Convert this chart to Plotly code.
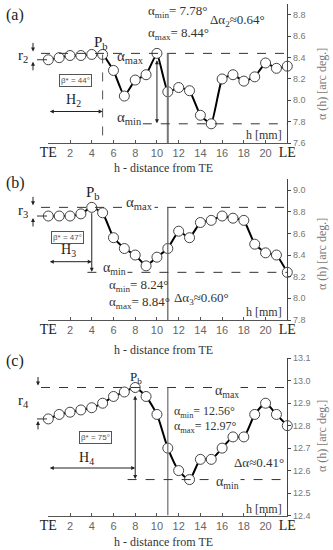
import plotly.graph_objects as go

W, H = 333, 550

# ---------------- data ----------------
h = list(range(23))
alpha_a = [8.38, 8.40, 8.42, 8.42, 8.43, 8.43, 8.28, 8.04, 8.19, 8.24, 8.44, 8.08,
           8.12, 8.09, 7.86, 7.78, 8.20, 8.24, 8.18, 8.22, 8.35, 8.30, 8.32]
alpha_b = [8.76, 8.76, 8.76, 8.78, 8.84, 8.79, 8.56, 8.46, 8.40, 8.30, 8.38, 8.46,
           8.62, 8.56, 8.70, 8.72, 8.76, 8.74, 8.72, 8.50, 8.42, 8.40, 8.24]
alpha_c = [12.83, 12.85, 12.86, 12.87, 12.88, 12.90, 12.93, 12.95, 12.97, 12.93, 12.85, 12.70,
           12.60, 12.56, 12.65, 12.65, 12.70, 12.75, 12.75, 12.85, 12.90, 12.85, 12.80]
yticks_a = [7.6, 7.8, 8.0, 8.2, 8.4, 8.6, 8.8]
yticks_b = [7.8, 8.0, 8.2, 8.4, 8.6, 8.8, 9.0]
yticks_c = [12.4, 12.5, 12.6, 12.7, 12.8, 12.9, 13.0, 13.1]
xtick_vals = [0, 2, 4, 6, 8, 10, 12, 14, 16, 18, 20, 22]
xtick_labels = ["TE", "2", "4", "6", "8", "10", "12", "14", "16", "18", "20", "LE"]
pb_index = {"a": 5, "b": 4, "c": 8}
beta_star = {"a": 44, "b": 47, "c": 75}
sub_idx = {"a": "2", "b": "3", "c": "4"}
delta_txt = {"a": "Δα<sub>2</sub>≈0.64°", "b": "Δα<sub>3</sub>≈0.60°", "c": "Δα≈0.41°"}

SERIF = "Liberation Serif"
SANS = "Liberation Sans"
TXT = "#333333"
GRAY = "#777777"


def px(x):
    return x / W


def py(y):
    return 1 - y / H


XDOM = [px(48.3), px(287.3)]

panels = [
    dict(key="a", vals=alpha_a, yr=[7.6, 8.9], top=4.3, bot=143, ticks=yticks_a),
    dict(key="b", vals=alpha_b, yr=[7.8, 9.1], top=179.2, bot=320, ticks=yticks_b),
    dict(key="c", vals=alpha_c, yr=[12.4, 13.1], top=358.3, bot=515.5, ticks=yticks_c),
]

fig = go.Figure()
layout = dict(width=W, height=H, margin=dict(l=0, r=0, t=0, b=0, autoexpand=False),
              paper_bgcolor="white", plot_bgcolor="white", showlegend=False)

ticktext = []
for lab in xtick_labels:
    if lab in ("TE", "LE"):
        ticktext.append(f'<span style="font-family:{SERIF};font-size:14px;color:#222">{lab}</span>')
    else:
        ticktext.append(lab)

shapes = []
annots = []

for i, p in enumerate(panels):
    n = "" if i == 0 else str(i + 1)
    xa, ya = "x" + n, "y" + n
    fig.add_trace(go.Scatter(
        x=h, y=p["vals"], mode="lines+markers", xaxis=xa, yaxis=ya, cliponaxis=False,
        line=dict(color="black", width=2, shape="spline",
                  smoothing=0.6 if p["key"] == "c" else 0.35),
        marker=dict(size=10, color="white", line=dict(color="#444", width=1)),
        hoverinfo="skip",
    ))
    layout["xaxis" + n] = dict(
        domain=XDOM, anchor=ya, range=[0, 22], showgrid=False, zeroline=False,
        showline=True, linecolor="#555", linewidth=1, ticks="inside", ticklen=3,
        tickcolor="#555", tickvals=xtick_vals, ticktext=ticktext,
        tickfont=dict(family=SANS, size=11, color="#666"), ticklabelstandoff=0,
    )
    layout["yaxis" + n] = dict(
        domain=[py(p["bot"]), py(p["top"])], anchor=xa, side="right", range=p["yr"],
        showgrid=False, zeroline=False, showline=True, linecolor="#444", linewidth=1,
        ticks="outside", ticklen=3, tickcolor="#444", tickvals=p["ticks"],
        ticktext=[f"{t:.1f}" for t in p["ticks"]],
        tickfont=dict(family=SANS, size=9, color="#777"),
    )

    vals = p["vals"]
    amax, amin = max(vals), min(vals)
    pb = pb_index[p["key"]]
    k = p["key"]
    y0r, y1r = p["yr"]

    def pix2data(ypix, p=p):
        return p["yr"][0] + (p["bot"] - ypix) / (p["bot"] - p["top"]) * (p["yr"][1] - p["yr"][0])

    def data2pix(yv, p=p):
        return p["bot"] - (yv - p["yr"][0]) / (p["yr"][1] - p["yr"][0]) * (p["bot"] - p["top"])

    # TE dashed vertical line
    shapes.append(dict(type="line", xref=xa, yref=ya, x0=-0.1, x1=-0.1,
                       y0=y0r, y1=y1r if k != "c" else 13.05,
                       line=dict(color="#555", width=1, dash="dash")))
    # alpha max dashed line
    shapes.append(dict(type="line", xref="paper", yref=ya, x0=px(41), x1=XDOM[1],
                       y0=amax, y1=amax, line=dict(color="#333", width=1, dash="dash")))
    # r short dash at first value
    shapes.append(dict(type="line", xref="paper", yref=ya, x0=px(37), x1=px(47),
                       y0=vals[0], y1=vals[0], line=dict(color="#333", width=1)))
    # vertical gray line at h = 11
    shapes.append(dict(type="line", xref=xa, yref=ya, x0=11, x1=11, y0=amax, y1=y0r,
                       line=dict(color=GRAY if k != "b" else "#666", width=2 if k == "a" else 1.3)))

    # r arrows
    ypx_max = data2pix(amax)
    ypx_first = data2pix(vals[0])
    rx = 33 if k != "c" else 38
    annots.append(dict(x=px(rx), y=py(ypx_max - 2), xref="paper", yref="paper", text="",
                       showarrow=True, ax=0, ay=-10, arrowhead=2, arrowsize=0.8,
                       arrowwidth=1, arrowcolor="#222"))
    annots.append(dict(x=px(rx), y=py(ypx_first + 2), xref="paper", yref="paper", text="",
                       showarrow=True, ax=0, ay=10, arrowhead=2, arrowsize=0.8,
                       arrowwidth=1, arrowcolor="#222"))
    rlab_y = {"a": 56, "b": 211, "c": 401}[k]
    annots.append(dict(x=px(23), y=py(rlab_y),
                       xref="paper", yref="paper",
                       text=f"r<sub>{sub_idx[k]}</sub>", showarrow=False,
                       font=dict(family=SERIF, size=15, color="#222")))

    # H arrow
    hpx = {"a": 111.5, "b": 261.7, "c": 468}[k]
    hy = pix2data(hpx)
    annots.append(dict(x=pb, y=hy, xref=xa, yref=ya, ax=0, ay=hy,
                       axref=xa, ayref=ya, text="", showarrow=True, arrowhead=2,
                       arrowside="end+start", arrowsize=0.8, arrowwidth=1, arrowcolor="#222"))
    hlab = {"a": (73, 101), "b": (68, 251), "c": (86, 458)}[k]
    annots.append(dict(x=px(hlab[0]), y=py(hlab[1]), xref="paper", yref="paper",
                       text=f"H<sub>{sub_idx[k]}</sub>", showarrow=False,
                       font=dict(family=SERIF, size=14, color="#222")))

    # beta box
    bpos = {"a": (75, 80), "b": (67, 237), "c": (95, 437)}[k]
    annots.append(dict(x=px(bpos[0]), y=py(bpos[1]), xref="paper", yref="paper",
                       text=f"β* = {beta_star[k]}°", showarrow=False,
                       font=dict(family=SANS, size=8, color="#555"),
                       bordercolor="#555", borderwidth=1, borderpad=1, bgcolor="white"))

    # panel label
    lpos = {"a": 15, "b": 183, "c": 361}[k]
    annots.append(dict(x=px(15), y=py(lpos), xref="paper", yref="paper", text=f"({k})",
                       showarrow=False, font=dict(family=SERIF, size=16, color="#222")))

    # h [mm]
    hm = {"a": 135, "b": 312, "c": 509}[k]
    annots.append(dict(x=px(284), y=py(hm), xref="paper", yref="paper", text="h [mm]",
                       xanchor="right", showarrow=False,
                       font=dict(family=SERIF, size=12, color="#333")))

    # x axis title
    xt = {"a": 168, "b": 350, "c": 542}[k]
    annots.append(dict(x=px(163), y=py(xt), xref="paper", yref="paper",
                       text="h - distance from TE", showarrow=False,
                       font=dict(family=SERIF, size=12, color="#333")))
    # y axis title
    yt = {"a": 84, "b": 254, "c": 436}[k]
    annots.append(dict(x=px(322), y=py(yt), xref="paper", yref="paper",
                       text="α (h) [arc deg.]", textangle=-90, showarrow=False,
                       font=dict(family=SERIF, size=12, color="#777")))

    # P_b label
    pbpos = {"a": (101, 43), "b": (93, 193), "c": (136, 377)}[k]
    annots.append(dict(x=px(pbpos[0]), y=py(pbpos[1]), xref="paper", yref="paper",
                       text="P<sub>b</sub>", showarrow=False,
                       font=dict(family=SERIF, size=15 if k != "c" else 13, color="#222")))

    # min / max value texts
    tpos = {"a": (146, 11, 33), "b": (107, 285, 302), "c": (172, 412, 427)}[k]
    fs = 13 if k != "c" else 12
    annots.append(dict(x=px(tpos[0]), y=py(tpos[1]), xref="paper", yref="paper",
                       xanchor="left", text=f"α<sub>min</sub>= {amin:.2f}°", showarrow=False,
                       font=dict(family=SERIF, size=fs, color=TXT)))
    annots.append(dict(x=px(tpos[0]), y=py(tpos[2]), xref="paper", yref="paper",
                       xanchor="left", text=f"α<sub>max</sub>= {amax:.2f}°", showarrow=False,
                       font=dict(family=SERIF, size=fs, color=TXT)))
    dpos = {"a": (208, 20), "b": (172, 298), "c": (232, 462)}[k]
    annots.append(dict(x=px(dpos[0]), y=py(dpos[1]), xref="paper", yref="paper",
                       xanchor="left", text=delta_txt[k], showarrow=False,
                       font=dict(family=SERIF, size=13, color=TXT)))

# ---- panel-specific elements ----
# (a)
va = alpha_a
shapes.append(dict(type="line", xref="x", yref="y", x0=5, x1=5, y0=va[5], y1=7.6,
                   line=dict(color="#555", width=1, dash="dash")))
shapes.append(dict(type="line", xref="x", yref="y", x0=8.7, x1=22, y0=min(va), y1=min(va),
                   line=dict(color="#333", width=1, dash="dash")))
annots.append(dict(x=10, y=min(va) + 0.005, ax=10, ay=max(va) - 0.05, xref="x", yref="y",
                   axref="x", ayref="y", text="", showarrow=True, arrowhead=2,
                   arrowside="end+start", arrowsize=0.8, arrowwidth=1, arrowcolor="#222"))
annots.append(dict(x=px(115), y=py(57), xref="paper", yref="paper", xanchor="left",
                   text="α<sub>max</sub>", showarrow=False,
                   font=dict(family=SERIF, size=15, color=TXT)))
annots.append(dict(x=px(115), y=py(118), xref="paper", yref="paper", xanchor="left",
                   text="α<sub>min</sub>", showarrow=False,
                   font=dict(family=SERIF, size=15, color=TXT)))

# (b)
vb = alpha_b
shapes.append(dict(type="line", xref="x2", yref="y2", x0=3.6, x1=22, y0=min(vb), y1=min(vb),
                   line=dict(color="#333", width=1, dash="dash")))
annots.append(dict(x=4, y=min(vb) + 0.005, ax=4, ay=max(vb) - 0.04, xref="x2", yref="y2",
                   axref="x2", ayref="y2", text="", showarrow=True, arrowhead=2,
                   arrowsize=0.8, arrowwidth=1, arrowcolor="#222"))
annots.append(dict(x=px(124), y=py(203), xref="paper", yref="paper", xanchor="left",
                   text="α<sub>max</sub>", showarrow=False, bgcolor="white",
                   font=dict(family=SERIF, size=15, color=TXT)))
annots.append(dict(x=px(101), y=py(269), xref="paper", yref="paper", xanchor="left",
                   text="α<sub>min</sub>", showarrow=False, bgcolor="white",
                   font=dict(family=SERIF, size=14, color=TXT)))

# (c)
vc = alpha_c
shapes.append(dict(type="line", xref="x3", yref="y3", x0=7.3, x1=22, y0=min(vc), y1=min(vc),
                   line=dict(color="#333", width=1, dash="dash")))
annots.append(dict(x=8, y=min(vc) + 0.003, ax=8, ay=max(vc) - 0.03, xref="x3", yref="y3",
                   axref="x3", ayref="y3", text="", showarrow=True, arrowhead=2,
                   arrowside="end+start", arrowsize=0.8, arrowwidth=1, arrowcolor="#222"))
annots.append(dict(x=px(227), y=py(391), xref="paper", yref="paper",
                   text="α<sub>max</sub>", showarrow=False, bgcolor="white",
                   font=dict(family=SERIF, size=14, color=TXT)))
annots.append(dict(x=px(227), y=py(482), xref="paper", yref="paper",
                   text="α<sub>min</sub>", showarrow=False, bgcolor="white",
                   font=dict(family=SERIF, size=14, color=TXT)))

# explicit anchoring (paper 'auto' anchoring would shift texts near the edges)
for a in annots:
    a.setdefault("xanchor", "center")
    a.setdefault("yanchor", "middle")

layout["shapes"] = shapes
layout["annotations"] = annots
layout["hovermode"] = False
fig.update_layout(**layout)
fig.write_html("out.html", config={"displayModeBar": False, "staticPlot": True},
               post_script="document.body.style.margin='0';document.body.style.overflow='hidden';")
